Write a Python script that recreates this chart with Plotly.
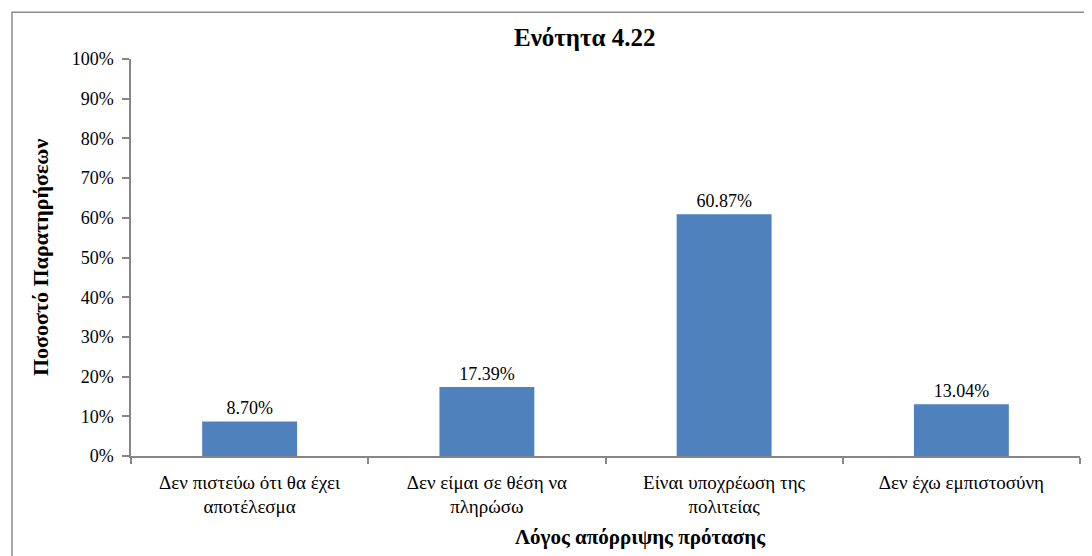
import plotly.graph_objects as go

categories = [
    "Δεν πιστεύω ότι θα έχει<br>αποτέλεσμα",
    "Δεν είμαι σε θέση να<br>πληρώσω",
    "Είναι υποχρέωση της<br>πολιτείας",
    "Δεν έχω εμπιστοσύνη",
]
values = [8.70, 17.39, 60.87, 13.04]
y_ticks = [0, 10, 20, 30, 40, 50, 60, 70, 80, 90, 100]
y_tick_text = [f"{v}%" for v in y_ticks]

serif = "Liberation Serif"
axis_grey = "#868686"

fig = go.Figure(
    go.Bar(
        x=categories,
        y=values,
        marker=dict(color="#4F81BD", line=dict(width=0)),
        text=values,
        texttemplate="%{y:.2f}%",
        textposition="outside",
        textfont=dict(family=serif, size=18, color="#000"),
        cliponaxis=False,
    )
)

# page body has an 8px margin, so the figure is 8px smaller than the window
fig.update_layout(
    width=1084,
    height=548,
    margin=dict(l=123, r=12, t=51, b=100),
    paper_bgcolor="white",
    plot_bgcolor="white",
    bargap=0.6,
    showlegend=False,
    font=dict(family=serif, size=18, color="#000"),
)

fig.update_xaxes(
    showline=True,
    linecolor=axis_grey,
    linewidth=1.5,
    ticks="outside",
    tickson="boundaries",
    ticklen=6,
    tickcolor=axis_grey,
    tickwidth=1.5,
    ticklabelstandoff=8,
    tickfont=dict(family=serif, size=19, color="#000"),
    showgrid=False,
)
fig.update_yaxes(
    range=[0, 100],
    tickmode="array",
    tickvals=y_ticks,
    ticktext=y_tick_text,
    showline=True,
    linecolor=axis_grey,
    linewidth=1.5,
    ticks="outside",
    ticklen=7,
    tickcolor=axis_grey,
    tickwidth=1.5,
    ticklabelstandoff=5,
    tickfont=dict(family=serif, size=18, color="#000"),
    showgrid=False,
    zeroline=False,
)

# chart title
fig.add_annotation(
    text="<b>Ενότητα 4.22</b>",
    xref="paper", yref="paper",
    x=0.478, y=1.053,
    xanchor="center", yanchor="middle",
    showarrow=False,
    font=dict(family=serif, size=25, color="#000"),
)
# y axis title
fig.add_annotation(
    text="<b>Ποσοστό Παρατηρήσεων</b>",
    xref="paper", yref="paper",
    x=-0.0959, y=0.501,
    xanchor="center", yanchor="middle",
    textangle=-90,
    showarrow=False,
    font=dict(family=serif, size=22, color="#000"),
)
# x axis title, sitting right at the bottom edge
fig.add_annotation(
    text="<b>Λόγος απόρριψης πρότασης</b>",
    xref="paper", yref="paper",
    x=0.537, y=-0.205,
    xanchor="center", yanchor="middle",
    showarrow=False,
    font=dict(family=serif, size=21, color="#000"),
)

# outer chart frame
fig.add_shape(
    type="rect",
    xref="paper", yref="paper",
    x0=-0.1254, y0=-0.6, x1=1.2, y1=1.118,
    line=dict(color="#8c8c8c", width=1.5),
    fillcolor="rgba(0,0,0,0)",
    layer="below",
)

fig.write_html("out.html")
